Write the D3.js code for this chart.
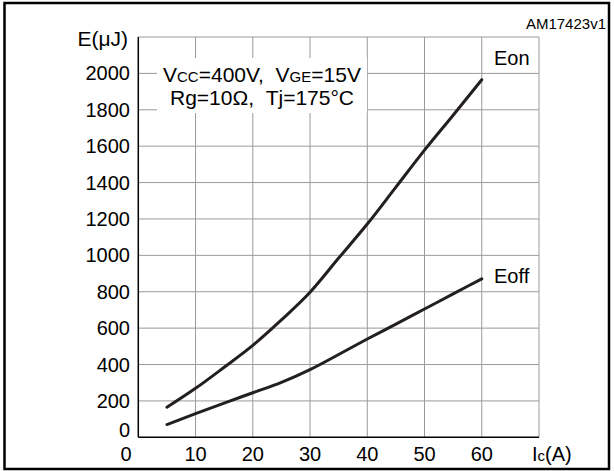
<!DOCTYPE html>
<html>
<head>
<meta charset="utf-8">
<script src="https://cdn.jsdelivr.net/npm/d3@7"></script>
<style>
  html, body { margin: 0; padding: 0; background: #fff; }
  svg { display: block; font-family: "Liberation Sans", Arial, sans-serif; }
</style>
</head>
<body>
<svg id="chart" width="614" height="471"></svg>
<script>
// Switching energy vs collector current
const current = [5, 10, 15, 20, 25, 30, 35, 40, 45, 50, 55, 60];
const eOn  = [165, 269, 385, 505, 645, 797, 985, 1172, 1375, 1578, 1770, 1965];
const eOff = [70, 130, 188, 245, 302, 372, 455, 540, 622, 705, 788, 871];
const xTicks = [0, 10, 20, 30, 40, 50, 60, 70];
const xTickLabels = ["0", "10", "20", "30", "40", "50", "60", ""];
const yTicks = [0, 200, 400, 600, 800, 1000, 1200, 1400, 1600, 1800, 2000, 2200];
const yTickLabels = ["0", "200", "400", "600", "800", "1000", "1200", "1400", "1600", "1800", "2000", ""];

const svg = d3.select("#chart");
const plot = { left: 138.3, right: 539, top: 37, bottom: 437.3 };

const x = d3.scaleLinear().domain([0, 70]).range([plot.left, plot.right]);
const y = d3.scaleLinear().domain([0, 2200]).range([plot.bottom, plot.top]);

// Outer frame
svg.append("rect")
  .attr("x", 4.5).attr("y", 3)
  .attr("width", 604.5).attr("height", 466)
  .attr("fill", "none").attr("stroke", "#000").attr("stroke-width", 2.5);

// Grid
const grid = svg.append("g").attr("stroke", "#9a9a9a").attr("stroke-width", 1);
grid.selectAll("line.v").data(xTicks.slice(1)).join("line")
  .attr("x1", d => x(d)).attr("x2", d => x(d))
  .attr("y1", plot.top).attr("y2", plot.bottom);
grid.selectAll("line.h").data(yTicks.slice(1)).join("line")
  .attr("x1", plot.left).attr("x2", plot.right)
  .attr("y1", d => y(d)).attr("y2", d => y(d));

// Axes (left and bottom solid)
svg.append("line").attr("x1", plot.left).attr("x2", plot.left)
  .attr("y1", plot.top).attr("y2", plot.bottom).attr("stroke", "#000").attr("stroke-width", 1.5);
svg.append("line").attr("x1", plot.left).attr("x2", plot.right)
  .attr("y1", plot.bottom).attr("y2", plot.bottom).attr("stroke", "#000").attr("stroke-width", 1.5);

// Tick labels
svg.append("g").selectAll("text").data(yTicks).join("text")
  .attr("x", 130).attr("y", d => d === 0 ? 437 : y(d) + 7)
  .attr("text-anchor", "end").attr("font-size", 20)
  .text((d, i) => yTickLabels[i]);
svg.append("g").selectAll("text").data(xTicks).join("text")
  .attr("x", d => d === 0 ? 126 : x(d)).attr("y", 461)
  .attr("text-anchor", "middle").attr("font-size", 20)
  .text((d, i) => xTickLabels[i]);

// Axis titles
svg.append("text").attr("x", 128).attr("y", 46).attr("text-anchor", "end")
  .attr("font-size", 21).text("E(μJ)");
const ic = svg.append("text").attr("x", 532).attr("y", 461).attr("font-size", 20);
ic.append("tspan").text("I");
ic.append("tspan").attr("font-size", 15).text("c");
ic.append("tspan").text("(A)");

svg.append("text").attr("x", 606).attr("y", 29).attr("text-anchor", "end")
  .attr("font-size", 15).text("AM17423v1");

// Conditions box
svg.append("rect").attr("x", 157).attr("y", 58).attr("width", 210).attr("height", 55).attr("fill", "#fff");
const l1 = svg.append("text").attr("x", 163).attr("y", 82).attr("font-size", 21);
l1.append("tspan").text("V");
l1.append("tspan").attr("font-size", 15).text("CC");
l1.append("tspan").text("=400V,\u00a0\u00a0V");
l1.append("tspan").attr("font-size", 15).text("GE");
l1.append("tspan").text("=15V");
svg.append("text").attr("x", 170).attr("y", 105).attr("font-size", 21)
  .text("Rg=10Ω,\u00a0\u00a0Tj=175°C");

// Curves
const line = d3.line().x(d => x(d[0])).y(d => y(d[1])).curve(d3.curveMonotoneX);
const series = [
  { name: "Eon", values: eOn, dy: -15 },
  { name: "Eoff", values: eOff, dy: 4 }
];
svg.append("g").selectAll("path").data(series).join("path")
  .attr("d", s => line(current.map((c, i) => [c, s.values[i]])))
  .attr("fill", "none").attr("stroke", "#231f20").attr("stroke-width", 3)
  .attr("stroke-linecap", "round");

// Series labels beside line ends
svg.append("g").selectAll("text").data(series).join("text")
  .attr("x", 494)
  .attr("y", s => y(s.values[s.values.length - 1]) + s.dy)
  .attr("font-size", 20)
  .text(s => s.name);
</script>
</body>
</html>
